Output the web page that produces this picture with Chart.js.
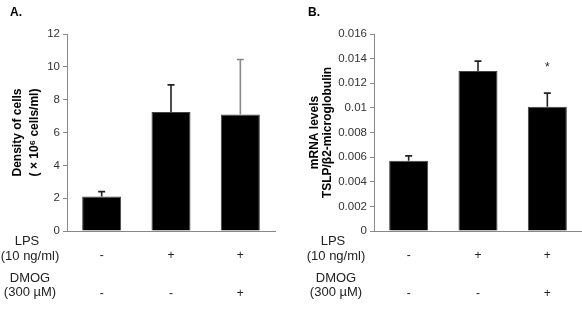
<!DOCTYPE html>
<html>
<head>
<meta charset="utf-8">
<script src="https://cdn.jsdelivr.net/npm/chart.js@4"></script>
<style>
  body { margin: 0; background: #fff; }
  .panel { position: absolute; top: 0; width: 291px; height: 317px; }
</style>
</head>
<body>
<div class="panel" style="left:0"><canvas id="chartA" width="291" height="317"></canvas></div>
<div class="panel" style="left:291px"><canvas id="chartB" width="291" height="317"></canvas></div>
<script>
// treatment rows under the bars
let lps = ['-', '+', '+'];
let dmog = ['-', '-', '+'];

// A: cell density (x 10^6 cells/ml)
let densityMeans = [2.1, 7.25, 7.1];
let densityErrors = [0.3, 1.65, 3.35];
let densityTicks = [0, 2, 4, 6, 8, 10, 12];

// B: TSLP / b2-microglobulin mRNA
let mrnaMeans = [0.0057, 0.0130, 0.0101];
let mrnaErrors = [0.0004, 0.0008, 0.0011];
let mrnaMarks = ['', '', '*'];
let mrnaTicks = [0, 0.002, 0.004, 0.006, 0.008, 0.01, 0.012, 0.014, 0.016];

let labels = lps.map(function(l, i) { return [l, '', '', dmog[i]]; });

Chart.defaults.font.family = '"Liberation Sans", Arial, sans-serif';
Chart.defaults.animation = false;

// error bars + significance marks
const errorBars = {
    id: 'errorBars',
    afterDatasetsDraw(chart, args, opts) {
        const ctx = chart.ctx;
        const y = chart.scales.y;
        const bars = chart.getDatasetMeta(0).data;
        bars.forEach(function(bar, i) {
            const top = y.getPixelForValue(opts.means[i] + opts.errors[i]);
            ctx.save();
            ctx.strokeStyle = opts.colors[i];
            ctx.lineWidth = 1.6;
            ctx.beginPath();
            ctx.moveTo(bar.x, bar.y);
            ctx.lineTo(bar.x, top);
            ctx.moveTo(bar.x - 3.5, top);
            ctx.lineTo(bar.x + 3.5, top);
            ctx.stroke();
            if (opts.marks && opts.marks[i]) {
                ctx.fillStyle = '#222';
                ctx.font = '12px "Liberation Sans", Arial';
                ctx.textAlign = 'center';
                ctx.textBaseline = 'middle';
                ctx.fillText(opts.marks[i], bar.x, top - 25);
            }
            ctx.restore();
        });
    }
};

// panel letter and row titles
const rowTitles = {
    id: 'rowTitles',
    afterDraw(chart, args, opts) {
        const ctx = chart.ctx;
        ctx.save();
        ctx.fillStyle = '#000';
        ctx.font = 'bold 12px "Liberation Sans", Arial';
        ctx.textAlign = 'left';
        ctx.textBaseline = 'middle';
        ctx.fillText(opts.letter, opts.letterX, 13);
        ctx.fillStyle = '#222';
        ctx.font = '13px "Liberation Sans", Arial';
        ctx.textAlign = 'center';
        ctx.fillText('LPS', opts.x, 241);
        ctx.fillText('(10 ng/ml)', opts.x + 3, 256);
        ctx.fillText('DMOG', opts.x + 3, 278);
        ctx.fillText('(300 \u00b5M)', opts.x + 3, 292);
        ctx.restore();
    }
};

function makeChart(id, means, errors, ticks, title, yWidth, opts) {
    return new Chart(document.getElementById(id), {
        type: 'bar',
        data: {
            labels: labels,
            datasets: [{
                data: means,
                backgroundColor: '#000',
                borderColor: '#444',
                borderWidth: 1,
                barPercentage: 0.563,
                categoryPercentage: 1
            }]
        },
        options: {
            responsive: false,
            layout: { padding: { top: 34, left: 0, right: opts.right, bottom: 0 } },
            plugins: {
                legend: { display: false },
                tooltip: { enabled: false },
                errorBars: { means: means, errors: errors, colors: opts.errColors, marks: opts.marks },
                rowTitles: { letter: opts.letter, letterX: opts.letterX, x: opts.rowX }
            },
            scales: {
                x: {
                    grid: { display: false },
                    border: { color: '#888', width: 1 },
                    ticks: {
                        color: '#222',
                        padding: 11,
                        maxRotation: 0,
                        font: { size: 12, lineHeight: 1.03 }
                    },
                    afterFit: function(scale) { scale.height = 86; }
                },
                y: {
                    min: 0,
                    max: ticks[ticks.length - 1],
                    afterBuildTicks: function(scale) {
                        scale.ticks = ticks.map(function(v) { return { value: v }; });
                    },
                    grid: { drawOnChartArea: false, tickLength: 4, color: '#888' },
                    border: { color: '#888', width: 1 },
                    ticks: {
                        color: '#333',
                        padding: 3,
                        font: { size: 11.5 },
                        callback: function(v) { return String(+v.toFixed(4)); }
                    },
                    title: {
                        display: true,
                        text: title,
                        color: '#000',
                        padding: { top: opts.titlePad, bottom: 0 },
                        font: { family: opts.titleFont, size: 12, weight: 'bold', lineHeight: opts.titleLine }
                    },
                    afterFit: function(scale) { scale.width = yWidth; }
                }
            }
        },
        plugins: [errorBars, rowTitles]
    });
}

makeChart('chartA', densityMeans, densityErrors, densityTicks,
    ['Density of cells', '( \u00d7 10\u2076 cells/ml)'], 67,
    { right: 16, errColors: ['#222', '#222', '#888'], letter: 'A.', letterX: 10, rowX: 27, titlePad: 10, titleLine: 1.35, titleFont: '"Liberation Sans Narrow", "Liberation Sans", Arial' });

makeChart('chartB', mrnaMeans, mrnaErrors, mrnaTicks,
    ['mRNA levels', 'TSLP/\u03b22-microglobulin'], 83,
    { right: 0, errColors: ['#222', '#222', '#222'], marks: mrnaMarks, letter: 'B.', letterX: 17, rowX: 42, titlePad: 17, titleLine: 1.1, titleFont: '"Liberation Sans Narrow", "Liberation Sans", Arial' });
</script>
</body>
</html>
